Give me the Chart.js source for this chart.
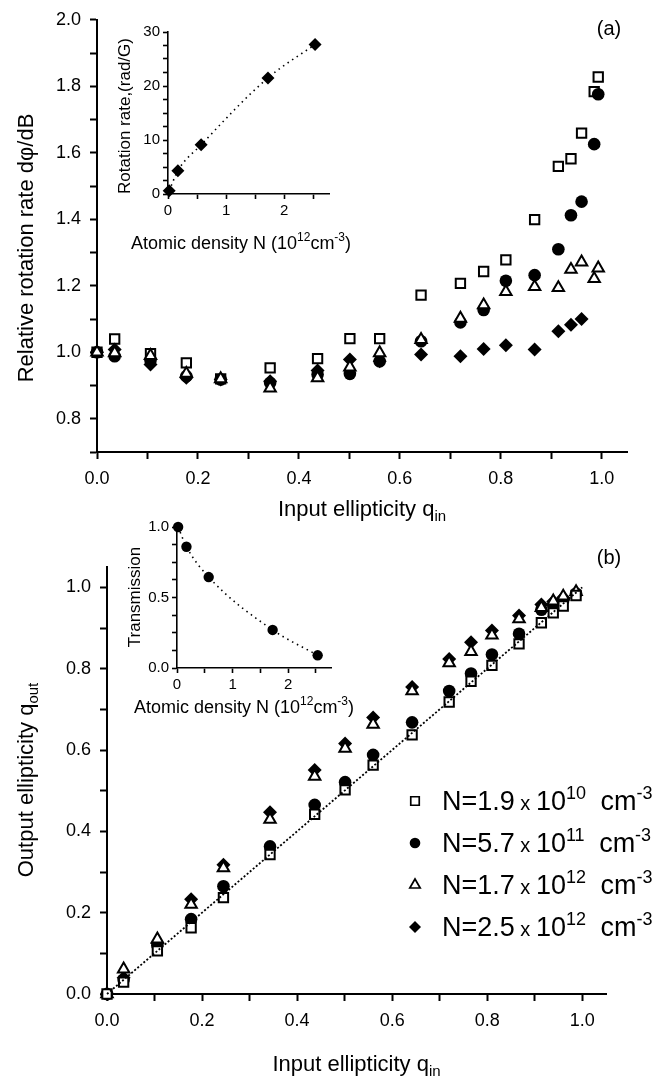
<!DOCTYPE html>
<html>
<head>
<meta charset="utf-8">
<title>Rotation rate and output ellipticity</title>
<script src="https://cdn.jsdelivr.net/npm/chart.js@4.4.1/dist/chart.umd.min.js"></script>
<style>
  html, body { margin: 0; padding: 0; background: #fff; }
  #page { position: relative; width: 669px; height: 1082px; overflow: hidden; }
  #page canvas { position: absolute; }
</style>
</head>
<body>
<div id="page">
  <canvas id="panelA" width="669" height="530" style="left:0px;top:0px"></canvas>
  <canvas id="panelB" width="669" height="552" style="left:0px;top:530px"></canvas>
  <canvas id="insetA" width="260" height="260" style="left:100px;top:0px"></canvas>
  <canvas id="insetB" width="260" height="230" style="left:100px;top:500px"></canvas>
</div>
<script>
// --- data ---

// (a) relative rotation rate vs input ellipticity
const qInA = [0, 0.035, 0.106, 0.177, 0.245, 0.343, 0.437, 0.501, 0.56, 0.642, 0.72, 0.766, 0.81, 0.867, 0.914, 0.939, 0.96, 0.985, 0.993];
const rate19e10 = [1.0, 1.04, 0.996, 0.968, 0.92, 0.953, 0.981, 1.041, 1.041, 1.172, 1.207, 1.243, 1.278, 1.399, 1.559, 1.582, 1.659, 1.784, 1.828];
const rate57e11 = [1.0, 0.988, 0.975, 0.928, 0.918, 0.908, 0.933, 0.935, 0.973, 1.033, 1.09, 1.127, 1.215, 1.232, 1.31, 1.412, 1.453, 1.626, 1.776];
const rate17e12 = [1.0, 0.998, 0.99, 0.936, 0.92, 0.892, 0.923, 0.955, 0.998, 1.038, 1.102, 1.142, 1.182, 1.197, 1.194, 1.249, 1.271, 1.221, 1.253];
const rate25e12 = [1.0, 1.008, 0.963, 0.923, 0.918, 0.913, 0.945, 0.978, 0.973, 0.993, 0.988, 1.01, 1.021, 1.008, 1.063, 1.083, 1.1, null, null];

// (b) output ellipticity vs input ellipticity
const qInB = [0, 0.035, 0.106, 0.177, 0.245, 0.343, 0.437, 0.501, 0.56, 0.642, 0.72, 0.766, 0.81, 0.867, 0.914, 0.939, 0.96, 0.987];
const out19e10 = [0, 0.029, 0.106, 0.163, 0.237, 0.343, 0.442, 0.502, 0.563, 0.637, 0.718, 0.769, 0.808, 0.861, 0.913, 0.937, 0.954, 0.98];
const out57e11 = [0, 0.035, 0.12, 0.184, 0.265, 0.363, 0.465, 0.521, 0.588, 0.668, 0.745, 0.788, 0.835, 0.886, 0.945, 0.955, 0.968, 0.985];
const out17e12 = [0, 0.061, 0.135, 0.22, 0.31, 0.429, 0.535, 0.604, 0.663, 0.745, 0.814, 0.842, 0.882, 0.922, 0.95, 0.966, 0.978, 0.989];
const out25e12 = [0, 0.04, 0.125, 0.233, 0.318, 0.447, 0.551, 0.616, 0.68, 0.755, 0.824, 0.865, 0.894, 0.931, 0.958, 0.965, 0.975, null];
const diagX = [0, 1];
const diagY = [0, 1];

// insets: atomic density (10^12 cm^-3)
const density = [0.02, 0.17, 0.57, 1.72, 2.53];
const rotRate = [0.6, 4.3, 9.1, 21.5, 27.7];
const transmission = [1.0, 0.86, 0.645, 0.27, 0.09];

// legend text pieces
const legendMantissa = ['1.9', '5.7', '1.7', '2.5'];
const legendExponent = ['10', '11', '12', '12'];

const BLACK = '#000';
const FONT = '"Liberation Sans", Arial, Helvetica, sans-serif';
Chart.defaults.font.family = FONT;
Chart.defaults.color = BLACK;

function toPoints(xs, ys) {
  return xs.map((x, i) => ({ x: x, y: ys[i] })).filter(p => p.y !== null);
}

const SQUARE = { pointStyle: 'rect', pointRadius: 6.6, pointBackgroundColor: '#fff', pointBorderColor: BLACK, pointBorderWidth: 2 };
const DOT = { pointStyle: 'circle', pointRadius: 6.3, pointBackgroundColor: BLACK, pointBorderColor: BLACK, pointBorderWidth: 0 };
const TRI = { pointStyle: 'triangle', pointRadius: 6.6, pointBackgroundColor: '#fff', pointBorderColor: BLACK, pointBorderWidth: 2 };
const DIAM = { pointStyle: 'rectRot', pointRadius: 7, pointBackgroundColor: BLACK, pointBorderColor: BLACK, pointBorderWidth: 0 };

function axis(min, max, step, isMajor, fmt, o) {
  return {
    type: 'linear', min: min, max: max,
    afterFit: o.fit,
    border: { display: true, color: BLACK, width: o.lw },
    grid: { display: true, drawOnChartArea: false, drawTicks: true, tickLength: o.tick, color: BLACK, tickWidth: o.lw },
    ticks: {
      stepSize: step, includeBounds: false, autoSkip: false, maxRotation: 0, minRotation: 0,
      padding: o.pad, color: BLACK, font: { size: o.size },
      callback: v => isMajor(v) ? fmt(v) : ''
    }
  };
}
const evenTenth = v => Math.round(v * 10) % 2 === 0;
const oneDec = v => v.toFixed(1);

// rich text with sub/superscripts: segs = [text, size, dy]
function rich(ctx, segs, x, y, align) {
  let w = 0;
  segs.forEach(s => { ctx.font = s[1] + 'px ' + FONT; w += ctx.measureText(s[0]).width; });
  let cx = align === 'center' ? x - w / 2 : x;
  ctx.textAlign = 'left';
  ctx.textBaseline = 'alphabetic';
  segs.forEach(s => {
    ctx.font = s[1] + 'px ' + FONT;
    ctx.fillText(s[0], cx, y + (s[2] || 0));
    cx += ctx.measureText(s[0]).width;
  });
}
function richV(ctx, segs, x, y) {
  ctx.save();
  ctx.translate(x, y);
  ctx.rotate(-Math.PI / 2);
  rich(ctx, segs, 0, 0, 'center');
  ctx.restore();
}
const texts = draw => ({
  id: 'texts',
  afterDraw(chart) {
    const ctx = chart.ctx;
    ctx.save();
    ctx.fillStyle = BLACK;
    draw(ctx, chart);
    ctx.restore();
  }
});

function baseOptions(pad) {
  return {
    responsive: false, animation: false, events: [],
    layout: { padding: pad },
    plugins: { legend: { display: false }, tooltip: { enabled: false } }
  };
}

// ---------- panel (a) ----------
const mainA = { lw: 2, tick: 7, pad: 9, size: 18 };
new Chart(document.getElementById('panelA'), {
  type: 'scatter',
  data: {
    datasets: [
      Object.assign({ data: toPoints(qInA, rate17e12), order: 1, clip: false }, TRI),
      Object.assign({ data: toPoints(qInA, rate25e12), order: 2, clip: false }, DIAM),
      Object.assign({ data: toPoints(qInA, rate57e11), order: 3, clip: false }, DOT),
      Object.assign({ data: toPoints(qInA, rate19e10), order: 4, clip: false }, SQUARE)
    ]
  },
  options: Object.assign(baseOptions({ left: 0, top: 16, right: 42, bottom: 0 }), {
    scales: {
      x: axis(0, 1.05, 0.1, evenTenth, oneDec, Object.assign({ fit: s => { s.height = 78; } }, mainA)),
      y: axis(0.7, 2.0, 0.1, evenTenth, oneDec, Object.assign({ fit: s => { s.width = 97; } }, mainA))
    }
  }),
  plugins: [texts((ctx, chart) => {
    const a = chart.chartArea;
    richV(ctx, [['Relative rotation rate d\u03C6/dB', 22]], 33, 248);
    rich(ctx, [['Input ellipticity q', 22], ['in', 15, 5]], (a.left + a.right) / 2, 516, 'center');
    rich(ctx, [['(a)', 20]], 609, 35, 'center');
  })]
});

// ---------- panel (b) ----------
const legendStyles = [SQUARE, DOT, TRI, DIAM];
new Chart(document.getElementById('panelB'), {
  type: 'scatter',
  data: {
    datasets: [
      { data: toPoints(diagX, diagY), showLine: true, pointRadius: 0, borderColor: BLACK, borderWidth: 1.8, borderDash: [2, 2], order: 0, clip: false },
      Object.assign({ data: toPoints(qInB, out19e10), order: 1, clip: false }, SQUARE),
      Object.assign({ data: toPoints(qInB, out17e12), order: 2, clip: false }, TRI),
      Object.assign({ data: toPoints(qInB, out57e11), order: 3, clip: false }, DOT),
      Object.assign({ data: toPoints(qInB, out25e12), order: 4, clip: false }, DIAM)
    ]
  },
  options: Object.assign(baseOptions({ left: 0, top: 37, right: 63, bottom: 0 }), {
    scales: {
      x: axis(0, 1.05, 0.1, evenTenth, oneDec, Object.assign({ fit: s => { s.height = 88; } }, mainA)),
      y: axis(0, 1.05, 0.1, evenTenth, oneDec, Object.assign({ fit: s => { s.width = 107; } }, mainA))
    }
  }),
  plugins: [texts((ctx, chart) => {
    const a = chart.chartArea;
    richV(ctx, [['Output ellipticity q', 22], ['out', 15, 5]], 33, 250);
    rich(ctx, [['Input ellipticity q', 22], ['in', 15, 5]], (a.left + a.right) / 2, 541, 'center');
    rich(ctx, [['(b)', 20]], 609, 34, 'center');
    // legend
    legendStyles.forEach((st, i) => {
      const y = 271 + i * 42;
      const open = st.pointBorderWidth > 0;
      ctx.fillStyle = st.pointBackgroundColor;
      ctx.strokeStyle = BLACK;
      ctx.lineWidth = open ? 1.7 : 0;
      Chart.helpers.drawPoint(ctx, { pointStyle: st.pointStyle, radius: st.pointStyle === 'circle' ? 5.3 : 6, rotation: 0, borderWidth: open ? 1.7 : 0 }, 415, y);
      ctx.fillStyle = BLACK;
      rich(ctx, [['N=' + legendMantissa[i], 27], [' x ', 20], ['10', 27], [legendExponent[i], 18, -11], [' ', 27], ['\u2002', 14], ['cm', 27], ['-3', 18, -11]], 442, y + 9, 'left');
    });
  })]
});

// ---------- inset (a): rotation rate vs density ----------
const insetOpt = { lw: 1.6, tick: 5, pad: 3, size: 15 };
const isInt = v => Math.abs(v - Math.round(v)) < 1e-6;
new Chart(document.getElementById('insetA'), {
  type: 'scatter',
  data: {
    datasets: [{
      data: toPoints(density, rotRate), showLine: true, cubicInterpolationMode: 'monotone',
      borderColor: BLACK, borderWidth: 1.6, borderDash: [1.5, 4],
      pointStyle: 'rectRot', pointRadius: 6.5, pointBackgroundColor: BLACK, pointBorderWidth: 0, clip: false
    }]
  },
  options: Object.assign(baseOptions({ left: 0, top: 32, right: 31, bottom: 0 }), {
    scales: {
      x: axis(0, 2.77, 0.5, isInt, v => String(Math.round(v)), Object.assign({ fit: s => { s.height = 66; } }, insetOpt)),
      y: axis(0, 30, 2.5, v => Math.round(v) % 10 === 0 && isInt(v), v => String(Math.round(v)), Object.assign({ fit: s => { s.width = 68; } }, insetOpt))
    }
  }),
  plugins: [texts((ctx, chart) => {
    richV(ctx, [['Rotation rate,(rad/G)', 17]], 30, 116);
    rich(ctx, [['Atomic density N (10', 18], ['12', 12, -8], ['cm', 18], ['-3', 12, -8], [')', 18]], 141, 249, 'center');
  })]
});

// ---------- inset (b): transmission vs density ----------
new Chart(document.getElementById('insetB'), {
  type: 'scatter',
  data: {
    datasets: [{
      data: toPoints(density, transmission), showLine: true, cubicInterpolationMode: 'monotone',
      borderColor: BLACK, borderWidth: 1.6, borderDash: [1.5, 4],
      pointStyle: 'circle', pointRadius: 5.2, pointBackgroundColor: BLACK, pointBorderWidth: 0, clip: false
    }]
  },
  options: Object.assign(baseOptions({ left: 0, top: 27, right: 29, bottom: 0 }), {
    scales: {
      x: axis(0, 2.77, 0.5, isInt, v => String(Math.round(v)), Object.assign({ fit: s => { s.height = 62; } }, insetOpt)),
      y: axis(0, 1.0, 0.125, v => Math.abs(v * 2 - Math.round(v * 2)) < 1e-6, oneDec, Object.assign({ fit: s => { s.width = 77; } }, insetOpt))
    }
  }),
  plugins: [texts((ctx, chart) => {
    richV(ctx, [['Transmission', 17]], 40, 97);
    rich(ctx, [['Atomic density N (10', 18], ['12', 12, -8], ['cm', 18], ['-3', 12, -8], [')', 18]], 144, 213, 'center');
  })]
});
</script>
</body>
</html>
